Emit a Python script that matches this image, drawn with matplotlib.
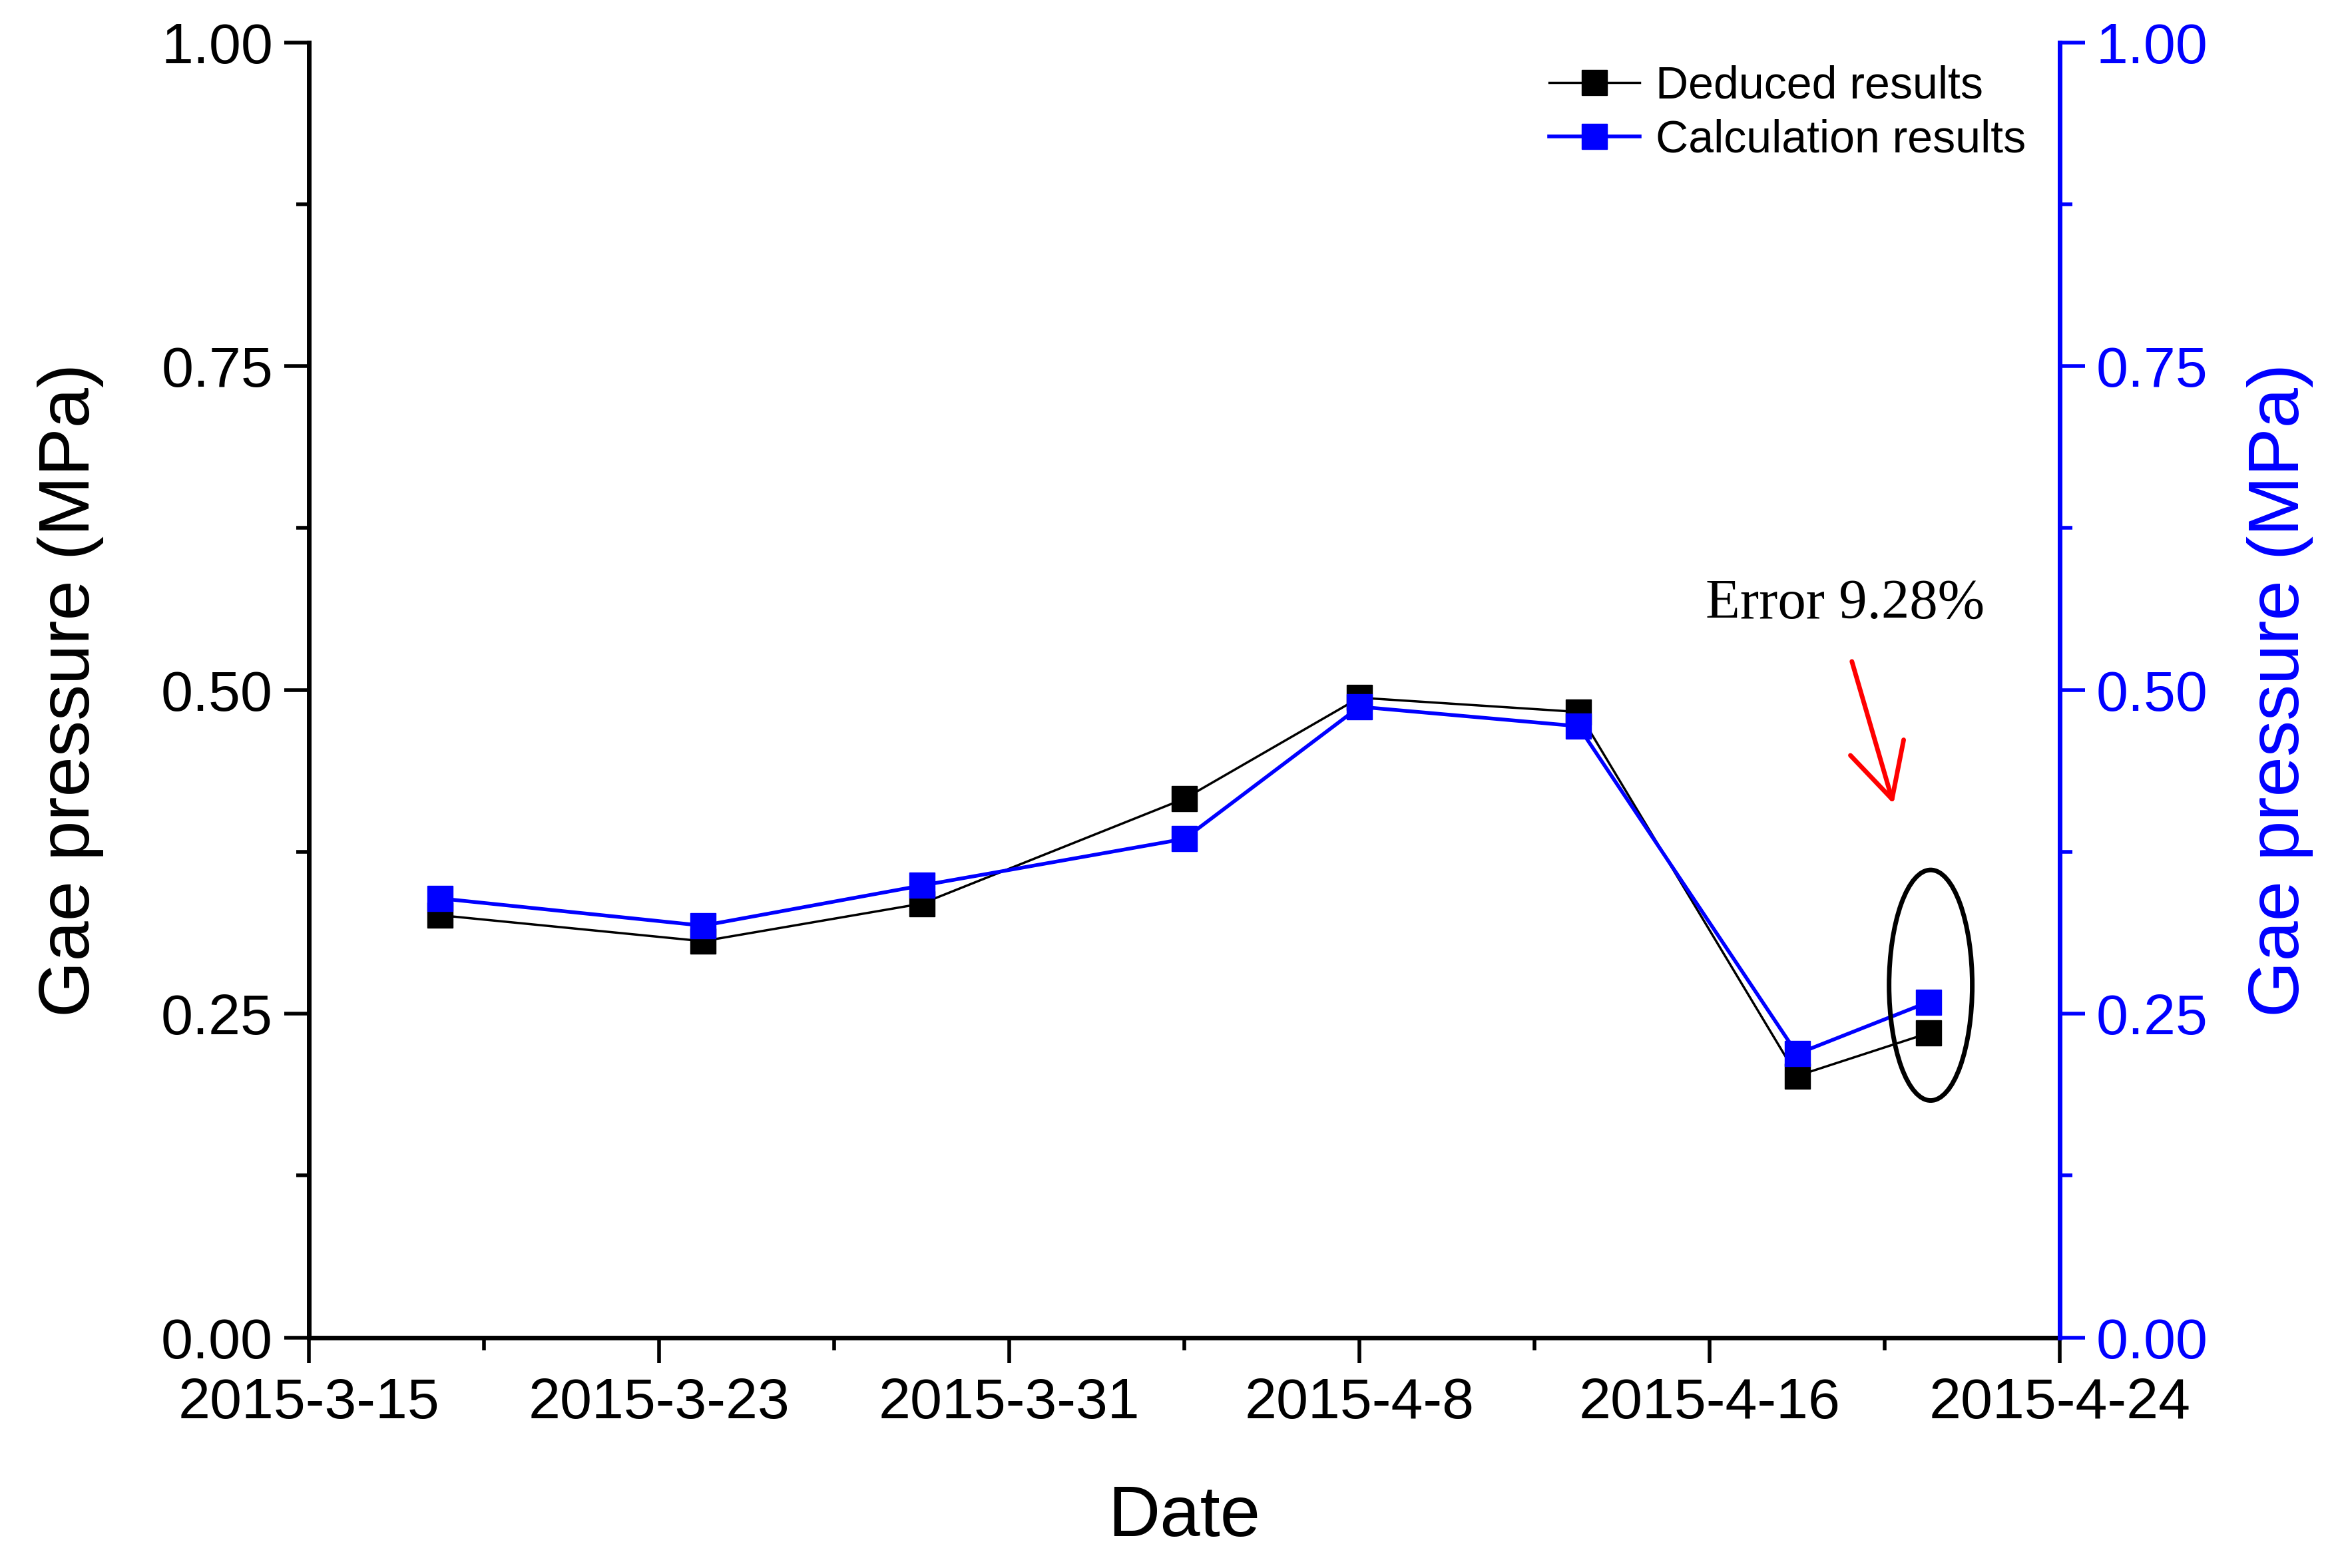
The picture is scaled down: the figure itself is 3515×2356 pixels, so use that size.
import matplotlib
matplotlib.use("Agg")
import matplotlib.pyplot as plt
import matplotlib.dates as mdates
from matplotlib.patches import Ellipse
from matplotlib.ticker import MultipleLocator, FuncFormatter
import datetime as dt

plt.rcParams['font.family'] = ['Liberation Sans', 'DejaVu Sans']

dates = ["2015-3-18", "2015-3-24", "2015-3-29", "2015-4-4",
         "2015-4-8", "2015-4-13", "2015-4-18", "2015-4-21"]
deduced = [0.326, 0.306, 0.335, 0.416, 0.494, 0.483, 0.202, 0.235]
calculated = [0.339, 0.318, 0.349, 0.385, 0.487, 0.472, 0.219, 0.259]

x = [dt.datetime.strptime(d, "%Y-%m-%d") for d in dates]
x0 = dt.datetime(2015, 3, 15)
x1 = dt.datetime(2015, 4, 24)

fig = plt.figure(figsize=(35.16, 23.56), dpi=100)
ax = fig.add_axes([0.132, 0.147, 0.748, 0.826])
ax2 = ax.twinx()

ax.plot(x, deduced, color='black', lw=2.5, marker='s', ms=27,
        mec='black', mfc='black', label='Deduced results')
ax.plot(x, calculated, color='#0000ff', lw=4, marker='s', ms=27,
        mec='#0000ff', mfc='#0000ff', label='Calculation results')

ax.set_xlim(x0, x1)
ax.set_ylim(0, 1)
ax2.set_ylim(0, 1)

ax.set_xticks([x0 + dt.timedelta(days=8 * i) for i in range(6)])
ax.set_xticks([x0 + dt.timedelta(days=4 + 8 * i) for i in range(5)], minor=True)
ax.xaxis.set_major_formatter(FuncFormatter(
    lambda v, p: "{d.year}-{d.month}-{d.day}".format(d=mdates.num2date(v))))

for a in (ax, ax2):
    a.yaxis.set_major_locator(MultipleLocator(0.25))
    a.yaxis.set_minor_locator(MultipleLocator(0.125))
    a.yaxis.set_major_formatter(FuncFormatter(lambda v, p: "%.2f" % v))
    a.spines['top'].set_visible(False)
    for s in a.spines.values():
        s.set_linewidth(5)

ax.tick_params(which='major', length=27, width=4, labelsize=62, pad=12)
ax.tick_params(which='minor', length=14, width=4)
ax.tick_params(axis='x', pad=16)
ax2.tick_params(which='major', length=27, width=4, labelsize=62, pad=12,
                colors='#0000ff')
ax2.tick_params(which='minor', length=14, width=4, colors='#0000ff')
ax2.spines['right'].set_color('#0000ff')
ax2.spines['left'].set_visible(False)
ax2.spines['bottom'].set_visible(False)

ax.set_xlabel("Date", fontsize=78, labelpad=58)
ax.set_ylabel("Gae pressure (MPa)", fontsize=78, labelpad=62)
ax2.set_ylabel("Gae pressure (MPa)", fontsize=78, labelpad=42, color='#0000ff')

leg = ax.legend(loc='upper right', fontsize=49, frameon=False,
                handlelength=2.0, handletextpad=0.35, labelspacing=0.25,
                bbox_to_anchor=(1.004, 1.014))

# highlight of last point
xd = mdates.date2num(x[-1])
ax.add_patch(Ellipse((xd + 0.05, 0.272), 1.9, 0.178, fill=False,
                     ec='black', lw=5, zorder=4))
ax.annotate("", xy=(mdates.date2num(x0) + 36.2, 0.412),
            xytext=(mdates.date2num(x0) + 35.25, 0.522),
            arrowprops=dict(arrowstyle='->, head_length=5.8, head_width=3.0',
                            mutation_scale=10, color='red', lw=5,
                            shrinkA=0, shrinkB=0))
ax.text(mdates.date2num(x0) + 35.1, 0.566, "Error 9.28%", fontsize=61,
        family=['Liberation Serif', 'DejaVu Serif'], ha='center', va='center')

fig.savefig("out.png", dpi=100)
